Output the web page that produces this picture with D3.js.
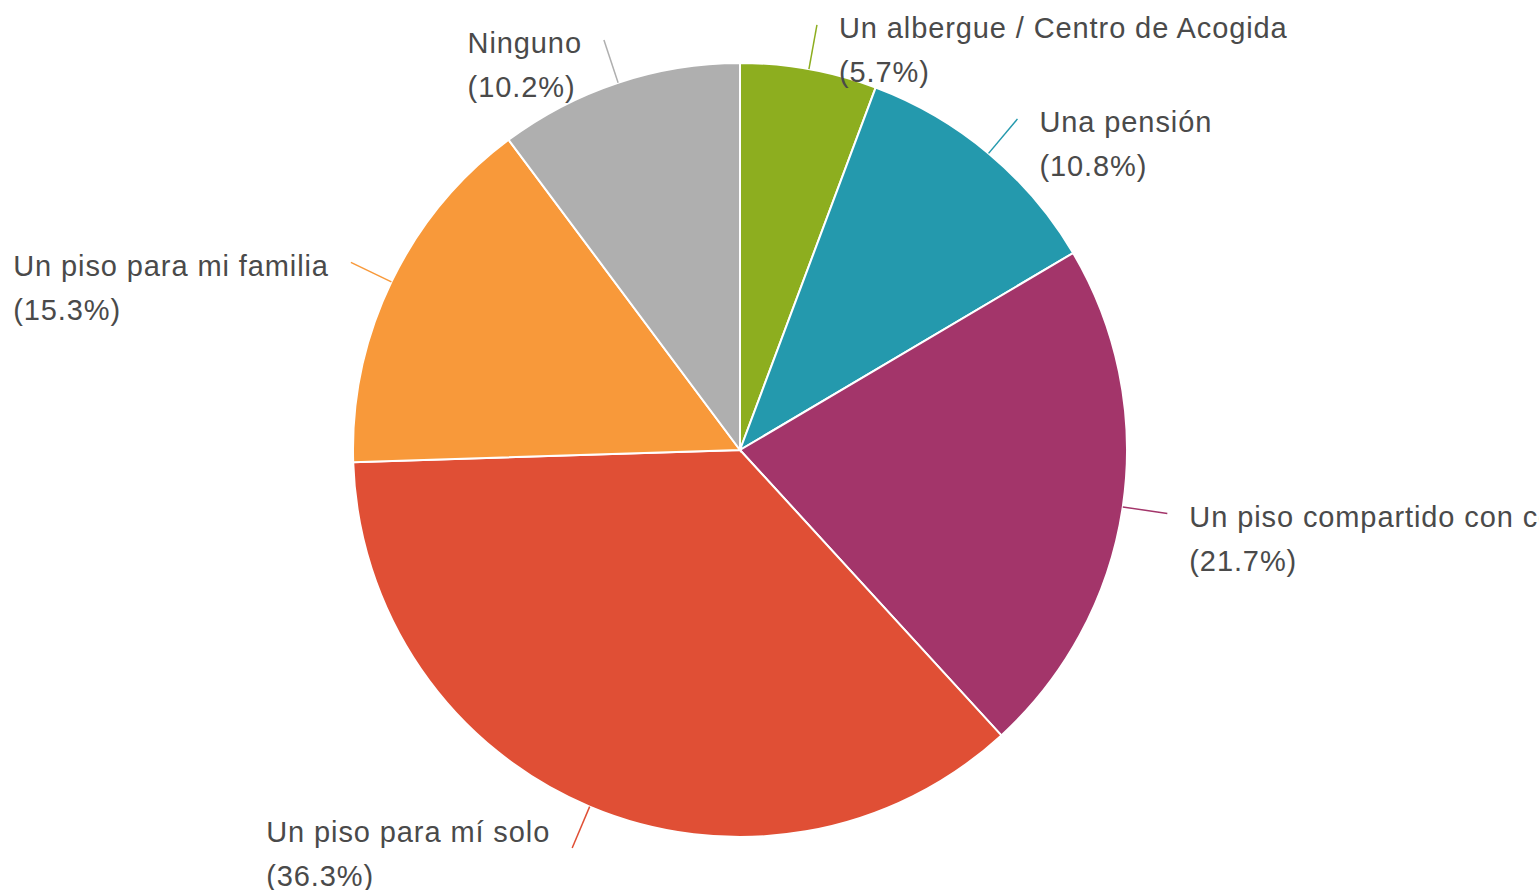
<!DOCTYPE html>
<html>
<head>
    <meta charset="utf-8">
    <title>pie</title>
    <script src="https://d3js.org/d3.v7.min.js"></script>
    <style>
        body { margin: 0; background: #fff; overflow: hidden; }
        text { font-family: "Liberation Sans", Arial, sans-serif; fill: #4a4a4a; letter-spacing: 0.9px; }
    </style>
</head>
<body>
    <svg id="pie" width="1539" height="890"></svg>

    <script>
    var labels = ["Un albergue / Centro de Acogida", "Una pensión", "Un piso compartido con compañeros",
                  "Un piso para mí solo", "Un piso para mi familia", "Ninguno"];
    var values = [5.7, 10.8, 21.7, 36.3, 15.3, 10.2];
    var colors = ["#8dae1f", "#2499ad", "#a3356a", "#e04f35", "#f8993a", "#afafaf"];

    var cx = 740, cy = 450, radius = 387;

    var svg = d3.select('#pie');
    var chart = svg.append('g')
        .attr('transform', `translate(${cx}, ${cy})`);

    var pie = d3.pie().sort(null).value(function(d) { return d; });
    var arcs = pie(values);

    var arc = d3.arc().innerRadius(0).outerRadius(radius);

    chart.selectAll('path')
        .data(arcs)
        .enter()
        .append('path')
        .attr('d', arc)
        .attr('fill', function(d, i) { return colors[i]; })
        .attr('stroke', '#fff')
        .attr('stroke-width', 2);

    function polar(a, r) {
        return [Math.sin(a) * r, -Math.cos(a) * r];
    }

    arcs.forEach(function(d, i) {
        var mid = (d.startAngle + d.endAngle) / 2;
        var p0 = polar(mid, radius);
        var p1 = polar(mid, radius + 45);
        var right = p1[0] > 0;

        chart.append('line')
            .attr('x1', p0[0]).attr('y1', p0[1])
            .attr('x2', p1[0]).attr('y2', p1[1])
            .attr('stroke', colors[i])
            .attr('stroke-width', 1.5);

        var g = chart.append('g');
        var t1 = g.append('text')
            .attr('font-size', 29)
            .attr('dy', '0.35em')
            .text(labels[i]);
        var t2 = g.append('text')
            .attr('font-size', 29)
            .attr('y', 44)
            .attr('dy', '0.35em')
            .text('(' + values[i].toFixed(1) + '%)');

        // left-side labels: first line ends just before the leader line
        var w = t1.node().getComputedTextLength();
        var x = right ? p1[0] + 22 : p1[0] - 22 - w;
        var y = p1[1] > radius ? p1[1] - 16 : p1[1] + 3;
        g.attr('transform', `translate(${x}, ${y})`);
    });
    </script>
</body>
</html>
